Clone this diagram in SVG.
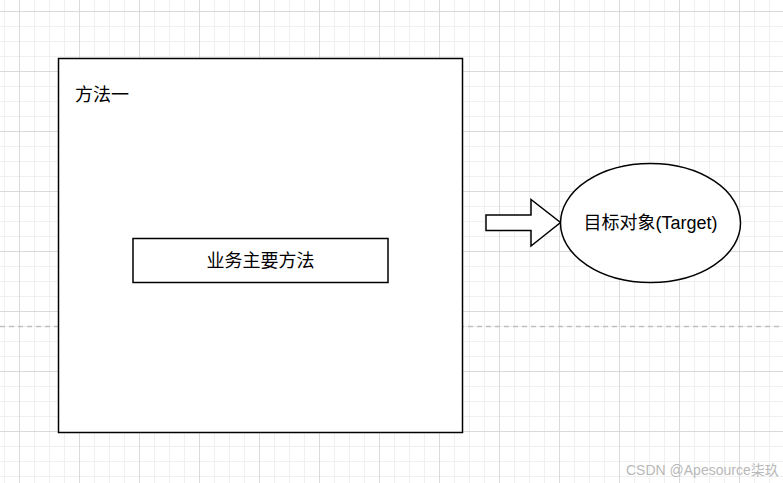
<svg xmlns="http://www.w3.org/2000/svg" width="783" height="483" viewBox="0 0 783 483">
  <style>
    .shape { fill: #ffffff; stroke: #000000; stroke-width: 1.5; }
    .label { font-family: "Liberation Sans", "Noto Sans CJK SC", sans-serif; font-size: 18px; fill: #000000; }
    .mark { font-family: "Liberation Sans", "Noto Sans CJK SC", sans-serif; font-size: 14px; fill: #b8b8b8; }
  </style>
  <defs>
    <pattern id="minor" x="4" y="11" width="15" height="15" patternUnits="userSpaceOnUse">
      <path d="M0 0.5 H15 M0.5 0 V15" stroke="#f0f0f0" stroke-width="1" fill="none"/>
    </pattern>
    <pattern id="major" x="19" y="11" width="60" height="60" patternUnits="userSpaceOnUse">
      <path d="M0 0.5 H60 M0.5 0 V60" stroke="#dadada" stroke-width="1" fill="none"/>
    </pattern>
  </defs>
  <g id="background">
    <rect width="783" height="483" fill="#ffffff"/>
    <rect width="783" height="483" fill="url(#minor)"/>
    <rect width="783" height="483" fill="url(#major)"/>
    <line x1="0" y1="326.5" x2="783" y2="326.5" stroke="#c0c0c0" stroke-width="1.5" stroke-dasharray="5 4"/>
  </g>
  <g id="method-one">
    <rect class="shape" x="58.5" y="58.5" width="404" height="374"/>
    <text class="label" x="75" y="101">方法一</text>
  </g>
  <g id="business-method">
    <rect class="shape" x="133" y="238.5" width="255" height="44"/>
    <text class="label" x="260.5" y="267" text-anchor="middle">业务主要方法</text>
  </g>
  <g id="connectors">
    <path class="shape" d="M486 215 H531 V199.5 L560.5 222.5 L531 246 V230.5 H486 Z"/>
  </g>
  <g id="target">
    <ellipse class="shape" cx="650.5" cy="223" rx="90" ry="59.5"/>
    <text class="label" x="650.5" y="228.5" text-anchor="middle">目标对象(Target)</text>
  </g>
  <text class="mark" x="626" y="475">CSDN @Apesource柒玖</text>
</svg>
